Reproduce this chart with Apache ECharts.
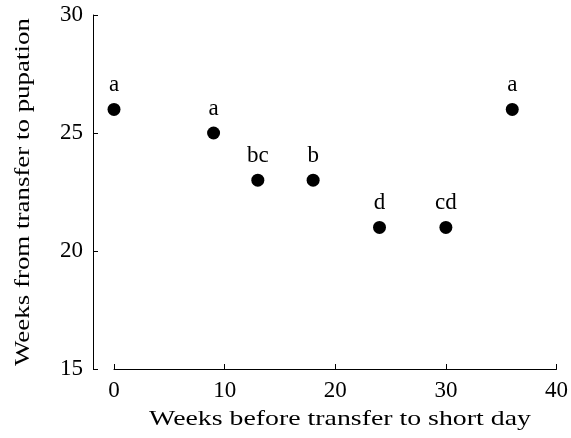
<!DOCTYPE html>
<html>
<head>
<meta charset="utf-8">
<script src="https://cdn.jsdelivr.net/npm/echarts@6/dist/echarts.min.js"></script>
<style>html,body{margin:0;padding:0;background:#fff}#c{width:571px;height:438px}</style>
</head>
<body>
<div id="c"></div>
<script>
var weeksBefore = [0, 9, 13, 18, 24, 30, 36];
var weeksToPupation = [26, 25, 23, 23, 21, 21, 26];
var groupLetters = ['a', 'a', 'bc', 'b', 'd', 'cd', 'a'];
var xTitle = 'Weeks before transfer to short day';
var yTitle = 'Weeks from transfer to pupation';

var FONT = '"Liberation Serif", "Times New Roman", serif';
var pts = weeksBefore.map(function (x, i) { return [x, weeksToPupation[i]]; });

var chart = echarts.init(document.getElementById('c'), null, {renderer: 'canvas'});
var axisCommon = {
  axisLine: {show: true, lineStyle: {color: '#000', width: 1}},
  axisTick: {show: true, inside: true, length: 5, lineStyle: {color: '#000', width: 1}},
  splitLine: {show: false},
  axisLabel: {color: '#000', fontFamily: FONT, fontSize: 23}
};
chart.setOption({
  animation: false,
  backgroundColor: '#fff',
  grid: [
    {left: 114, right: 14, top: 15, bottom: 69},
    {left: 93, right: 14, top: 15, bottom: 69}
  ],
  xAxis: [
    Object.assign({}, axisCommon, {gridIndex: 0, type: 'value', min: 0, max: 40, interval: 10,
      axisLabel: Object.assign({}, axisCommon.axisLabel, {margin: 10})}),
    {gridIndex: 1, type: 'value', min: 0, max: 40, show: false}
  ],
  yAxis: [
    {gridIndex: 0, type: 'value', min: 15, max: 30, interval: 5, show: false},
    Object.assign({}, axisCommon, {gridIndex: 1, type: 'value', min: 15, max: 30, interval: 5,
      axisLabel: Object.assign({}, axisCommon.axisLabel, {margin: 10})})
  ],
  graphic: [
    {type: 'text', x: 340, y: 419, scaleX: 1.265, silent: true,
      style: {text: xTitle, font: '22px ' + FONT, fill: '#000', align: 'center', verticalAlign: 'middle', textAlign: 'center', textVerticalAlign: 'middle'}},
    {type: 'text', x: 23, y: 192, rotation: Math.PI / 2, scaleX: 1.224, silent: true,
      style: {text: yTitle, font: '22px ' + FONT, fill: '#000', align: 'center', verticalAlign: 'middle', textAlign: 'center', textVerticalAlign: 'middle'}}
  ],
  series: [{
    type: 'scatter',
    xAxisIndex: 0, yAxisIndex: 0,
    data: pts,
    symbol: 'circle',
    symbolSize: 13,
    itemStyle: {color: '#000', opacity: 1},
    label: {
      show: true, position: 'top', distance: 6,
      color: '#000', fontFamily: FONT, fontSize: 23,
      formatter: function (p) { return groupLetters[p.dataIndex]; }
    }
  }]
});
</script>
</body>
</html>
